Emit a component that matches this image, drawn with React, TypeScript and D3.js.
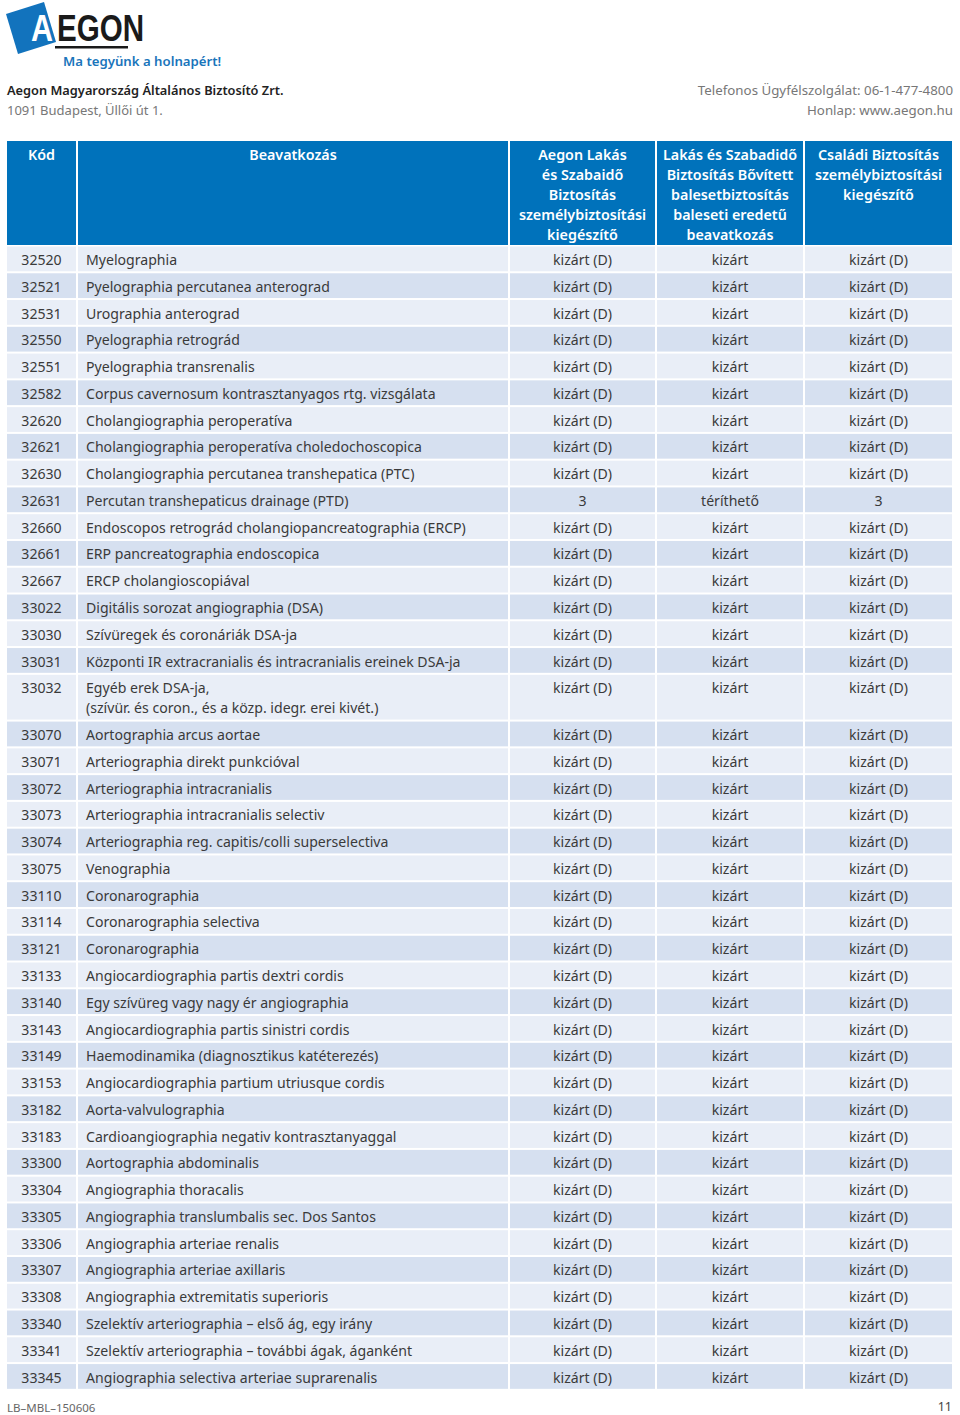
import React from "react";
import * as d3 from "d3";

const codes = ["32520","32521","32531","32550","32551","32582","32620","32621","32630","32631","32660","32661","32667","33022","33030","33031","33032","33070","33071","33072","33073","33074","33075","33110","33114","33121","33133","33140","33143","33149","33153","33182","33183","33300","33304","33305","33306","33307","33308","33340","33341","33345"];

const procedures = [
  ["Myelographia"],
  ["Pyelographia percutanea anterograd"],
  ["Urographia anterograd"],
  ["Pyelographia retrográd"],
  ["Pyelographia transrenalis"],
  ["Corpus cavernosum kontrasztanyagos rtg. vizsgálata"],
  ["Cholangiographia peroperatíva"],
  ["Cholangiographia peroperatíva choledochoscopica"],
  ["Cholangiographia percutanea transhepatica (PTC)"],
  ["Percutan transhepaticus drainage (PTD)"],
  ["Endoscopos retrográd cholangiopancreatographia (ERCP)"],
  ["ERP pancreatographia endoscopica"],
  ["ERCP cholangioscopiával"],
  ["Digitális sorozat angiographia (DSA)"],
  ["Szívüregek és coronáriák DSA-ja"],
  ["Központi IR extracranialis és intracranialis ereinek DSA-ja"],
  ["Egyéb erek DSA-ja,", "(szívür. és coron., és a közp. idegr. erei kivét.)"],
  ["Aortographia arcus aortae"],
  ["Arteriographia direkt punkcióval"],
  ["Arteriographia intracranialis"],
  ["Arteriographia intracranialis selectiv"],
  ["Arteriographia reg. capitis/colli superselectiva"],
  ["Venographia"],
  ["Coronarographia"],
  ["Coronarographia selectiva"],
  ["Coronarographia"],
  ["Angiocardiographia partis dextri cordis"],
  ["Egy szívüreg vagy nagy ér angiographia"],
  ["Angiocardiographia partis sinistri cordis"],
  ["Haemodinamika (diagnosztikus katéterezés)"],
  ["Angiocardiographia partium utriusque cordis"],
  ["Aorta-valvulographia"],
  ["Cardioangiographia negativ kontrasztanyaggal"],
  ["Aortographia abdominalis"],
  ["Angiographia thoracalis"],
  ["Angiographia translumbalis sec. Dos Santos"],
  ["Angiographia arteriae renalis"],
  ["Angiographia arteriae axillaris"],
  ["Angiographia extremitatis superioris"],
  ["Szelektív arteriographia – első ág, egy irány"],
  ["Szelektív arteriographia – további ágak, áganként"],
  ["Angiographia selectiva arteriae suprarenalis"],
];

const aegonLakas = codes.map((c) => (c === "32631" ? "3" : "kizárt (D)"));
const bovitett = codes.map((c) => (c === "32631" ? "téríthető" : "kizárt"));
const csaladi = codes.map((c) => (c === "32631" ? "3" : "kizárt (D)"));

const headers = [
  ["Kód"],
  ["Beavatkozás"],
  ["Aegon Lakás", "és Szabaidő", "Biztosítás", "személybiztosítási", "kiegészítő"],
  ["Lakás és Szabadidő", "Biztosítás Bővített", "balesetbiztosítás", "baleseti eredetű", "beavatkozás"],
  ["Családi Biztosítás", "személybiztosítási", "kiegészítő"],
];

const colEdges = [7, 78, 510, 657, 805, 954];
const BLUE = "#0072bb";
const LIGHT = "#e9eef7";
const DARK = "#d6e0f0";
const TEXT = "#3a3a3a";
const FONT = "'Noto Sans', sans-serif";
const FS = 14.1;

export default function App() {
  const col = d3.scaleOrdinal<number, number>().domain(d3.range(5)).range(colEdges.slice(0, 5));
  const colW = (i: number) => colEdges[i + 1] - colEdges[i];
  const unit = 26.77;
  const lineGap = 20;
  const heights = procedures.map((p) => unit + (p.length - 1) * lineGap);
  const tops = [0, ...Array.from(d3.cumsum(heights))];
  const bodyTop = 246.5;
  const y = d3.scaleLinear().domain([0, 1]).range([bodyTop, bodyTop + 1]);

  const values = [aegonLakas, bovitett, csaladi];

  return (
    <svg width={960} height={1415} style={{ position: "absolute", left: 0, top: 0, background: "#fff" }} fontFamily={FONT}>
      {/* Logo */}
      <polygon points="6,14 44,2 56,42 18,54" fill="#1273bd" />
      <text x={31} y={41} fontSize={37} fontWeight={700} fill="#fff" fontFamily="'Liberation Sans', Arial, sans-serif" textLength={22} lengthAdjust="spacingAndGlyphs">A</text>
      <text x={57} y={41} fontSize={37} fontWeight={700} fill="#1a1a1a" fontFamily="'Liberation Sans', Arial, sans-serif" textLength={87} lengthAdjust="spacingAndGlyphs">EGON</text>
      <rect x={55} y={46} width={73} height={2.5} fill="#1a1a1a" />
      <text x={63} y={66} fontSize={13.2} fontWeight={600} fill="#1a75bb">Ma tegyünk a holnapért!</text>

      <text x={7} y={95} fontSize={12.8} fontWeight={600} fill="#222">Aegon Magyarország Általános Biztosító Zrt.</text>
      <text x={7} y={115} fontSize={13} fill="#777">1091 Budapest, Üllői út 1.</text>
      <text x={953} y={95} fontSize={13.3} fill="#777" textAnchor="end">Telefonos Ügyfélszolgálat: 06-1-477-4800</text>
      <text x={953} y={115} fontSize={13.3} fill="#777" textAnchor="end">Honlap: www.aegon.hu</text>

      {/* Header */}
      {headers.map((h, i) => (
        <g key={"h" + i}>
          <rect x={col(i)} y={141} width={colW(i) - 2} height={104} fill={BLUE} />
          {h.map((line, j) => (
            <text key={j} x={col(i) + (colW(i) - 2) / 2} y={160 + j * 20} fontSize={14.3} fontWeight={600} fill="#fff" textAnchor="middle">
              {line}
            </text>
          ))}
        </g>
      ))}

      {/* Body */}
      {codes.map((code, r) => {
        const top = y(tops[r]);
        const h = heights[r];
        const fill = r % 2 === 0 ? LIGHT : DARK;
        const base = top + 18.5;
        return (
          <g key={code + r}>
            {d3.range(5).map((i) => (
              <rect key={i} x={col(i)} y={top} width={colW(i) - 2} height={h - 2} fill={fill} />
            ))}
            <text x={col(0) + (colW(0) - 2) / 2} y={base} fontSize={FS} fill={TEXT} textAnchor="middle">{code}</text>
            {procedures[r].map((line, j) => (
              <text key={j} x={col(1) + 8} y={base + j * lineGap} fontSize={FS} fill={TEXT}>{line}</text>
            ))}
            {values.map((arr, k) => (
              <text key={k} x={col(k + 2) + (colW(k + 2) - 2) / 2} y={base} fontSize={FS} fill={TEXT} textAnchor="middle">{arr[r]}</text>
            ))}
          </g>
        );
      })}

      <text x={7} y={1412} fontSize={11.5} fill="#666">LB–MBL–150606</text>
      <text x={952} y={1411} fontSize={12.5} fill="#444" textAnchor="end">11</text>
    </svg>
  );
}
